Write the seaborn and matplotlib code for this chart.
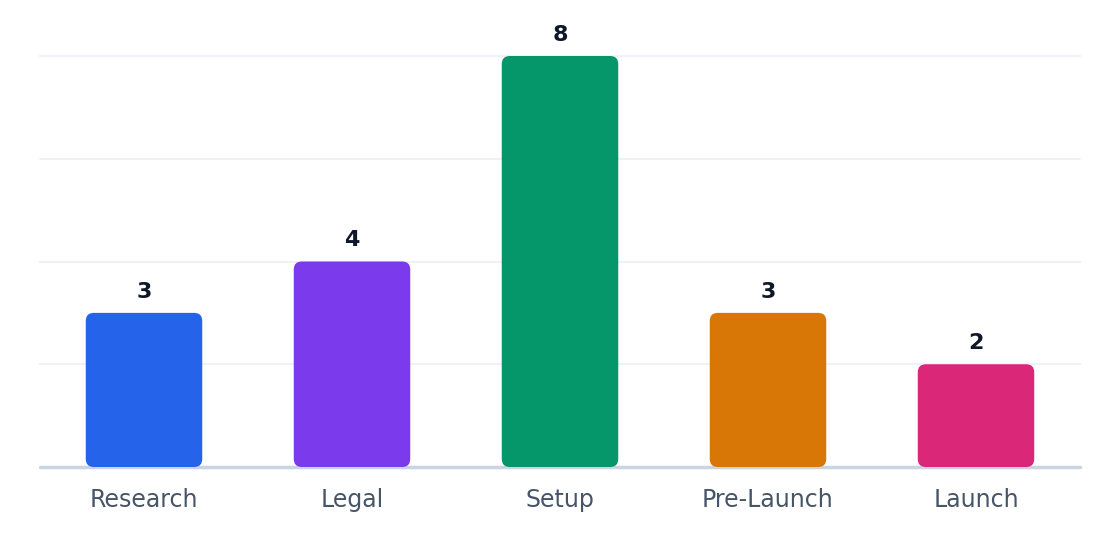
import pandas as pd
import seaborn as sns
import matplotlib.pyplot as plt
from matplotlib.patches import FancyBboxPatch

# Chart data
phases = ['Research', 'Legal', 'Setup', 'Pre-Launch', 'Launch']
counts = [3, 4, 8, 3, 2]
colors = ['#2563eb', '#7c3aed', '#059669', '#d97706', '#db2777']

df = pd.DataFrame({'phase': phases, 'count': counts})

sns.set_style('white')
plt.rcParams['font.family'] = ['DejaVu Sans']

fig = plt.figure(figsize=(11.2, 5.6), dpi=100)
ax = fig.add_axes([40 / 1120, 93 / 560, 1040 / 1120, 411 / 560])

sns.barplot(data=df, x='phase', y='count', hue='phase', palette=colors,
            width=0.56, saturation=1, legend=False, ax=ax)

ax.set_ylim(0, 8)
ax.set_xlim(-0.5, 4.5)

# swap the plain bars for rounded ones
px_x = 1040 / 5
px_y = 411 / 8
radius = 8 / px_x
for patch in list(ax.patches):
    x, y = patch.get_x(), patch.get_y()
    w, h = patch.get_width(), patch.get_height()
    fc = patch.get_facecolor()
    patch.remove()
    ax.add_patch(FancyBboxPatch((x, y), w, h,
                                boxstyle=f'round,pad=0,rounding_size={radius}',
                                mutation_aspect=px_x / px_y,
                                facecolor=fc, edgecolor='none', zorder=3))

for i, v in enumerate(counts):
    ax.text(i, v + 0.22, str(v), ha='center', va='bottom', fontsize=16,
            fontweight='bold', color='#0f172a', clip_on=False)

for g in [2, 4, 6, 8]:
    ax.axhline(g, color='#eef1f5', lw=1.5, zorder=0, clip_on=False)
ax.axhline(0, color='#cbd5e1', lw=2.5, zorder=2, clip_on=False)

sns.despine(ax=ax, left=True, bottom=True, top=True, right=True)
ax.set_yticks([])
ax.set_xlabel('')
ax.set_ylabel('')
ax.tick_params(axis='x', length=0, pad=15, labelsize=17, labelcolor='#475569')

fig.savefig('out.png', dpi=100)
